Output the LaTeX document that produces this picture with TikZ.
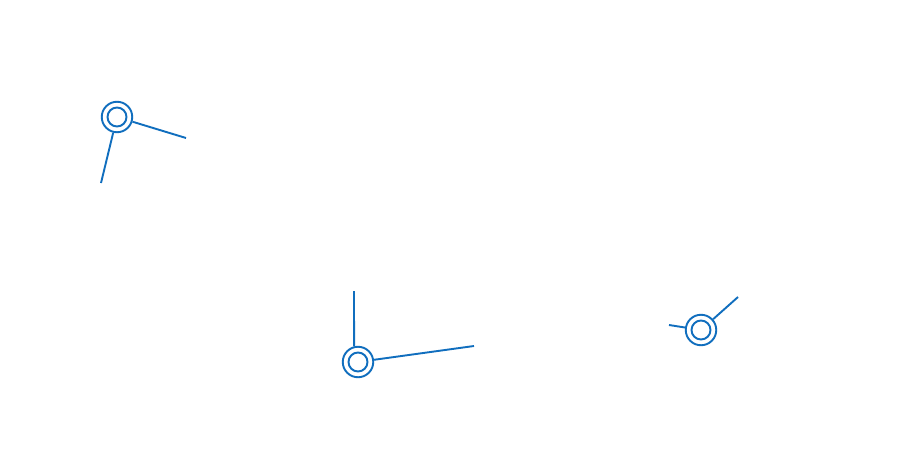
\documentclass[tikz,border=0pt]{standalone}
\definecolor{lc}{HTML}{106EBE}
\begin{document}
\begin{tikzpicture}[x=1pt,y=-1pt,
  ring/.style={circle,draw=lc,line width=1.9pt,minimum size=30.5pt,inner sep=0pt,fill=white},
  inring/.style={circle,draw=lc,line width=1.9pt,minimum size=19pt,inner sep=0pt},
  conn/.style={draw=lc,line width=1.9pt}]
\useasboundingbox[fill=white] (0,0) rectangle (909,460);
% nodes
\node[ring] (c1) at (117,117) {};
\node[inring] (i1) at (c1) {};
\node[ring] (c2) at (358,362) {};
\node[inring] (i2) at (c2) {};
\node[ring] (c3) at (701,330) {};
\node[inring] (i3) at (c3) {};
% free ends
\coordinate (a1) at (186,138);
\coordinate (b1) at (101,183);
\coordinate (a2) at (354,291);
\coordinate (b2) at (474,346);
\coordinate (a3) at (738,297);
\coordinate (b3) at (669,325);
% connectors
\draw[conn] (c1) -- (a1);
\draw[conn] (c1) -- (b1);
\draw[conn] (c2.104.5) -- (a2);
\draw[conn] (c2) -- (b2);
\draw[conn] (c3) -- (a3);
\draw[conn] (c3) -- (b3);
\end{tikzpicture}
\end{document}
